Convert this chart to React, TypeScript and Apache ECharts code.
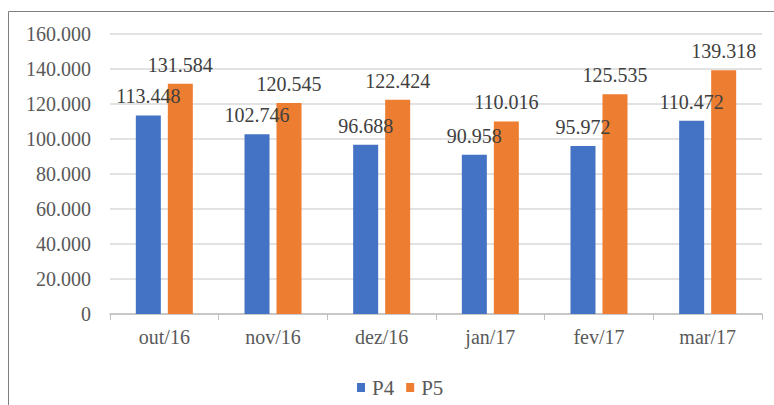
import React, { useEffect, useRef } from "react";
import * as echarts from "echarts";

const categories = ["out/16", "nov/16", "dez/16", "jan/17", "fev/17", "mar/17"];
const p4Values = [113.448, 102.746, 96.688, 90.958, 95.972, 110.472];
const p5Values = [131.584, 120.545, 122.424, 110.016, 125.535, 139.318];
const seriesNames = ["P4", "P5"];

const FONT = "Times New Roman, Liberation Serif, serif";
const fmt = (v: number) => (v === 0 ? "0" : v.toFixed(3));

export default function App() {
  const ref = useRef<HTMLDivElement>(null);
  useEffect(() => {
    if (!ref.current) return;
    const chart = echarts.init(ref.current, null, { renderer: "svg" });
    const labelStyle = {
      show: true,
      position: "top",
      distance: 9,
      fontFamily: FONT,
      fontSize: 20,
      color: "#404040",
      formatter: (p: any) => fmt(p.value),
    };
    chart.setOption({
      animation: false,
      backgroundColor: "#ffffff",
      textStyle: { fontFamily: FONT },
      graphic: [
        {
          type: "rect",
          shape: { x: 8.5, y: 11.5, width: 800, height: 500 },
          style: { fill: "none", stroke: "#7f7f7f", lineWidth: 1 },
          silent: true,
        },
      ],
      grid: { left: 110, right: 12, top: 34, bottom: 91, containLabel: false },
      legend: {
        top: 372,
        left: 352,
        itemWidth: 8,
        itemHeight: 9,
        itemGap: 12,
        icon: "rect",
        textStyle: { fontFamily: FONT, fontSize: 21, color: "#595959", padding: [0, 0, 0, 2] },
        data: seriesNames,
      },
      xAxis: {
        type: "category",
        data: categories,
        axisLine: { lineStyle: { color: "#bfbfbf", width: 1.5 } },
        axisTick: { show: true, length: 6, lineStyle: { color: "#bfbfbf" } },
        axisLabel: { fontFamily: FONT, fontSize: 20, color: "#595959", margin: 13 },
      },
      yAxis: {
        type: "value",
        min: 0,
        max: 160,
        interval: 20,
        axisLine: { show: false },
        axisTick: { show: false },
        splitLine: { lineStyle: { color: "#d9d9d9", width: 1.5 } },
        axisLabel: {
          fontFamily: FONT,
          fontSize: 20,
          color: "#595959",
          margin: 19,
          formatter: (v: number) => fmt(v),
        },
      },
      series: [
        {
          name: seriesNames[0],
          type: "bar",
          data: p4Values,
          barWidth: 25,
          barGap: "28%",
          itemStyle: { color: "#4472c4" },
          label: labelStyle,
        },
        {
          name: seriesNames[1],
          type: "bar",
          data: p5Values,
          barWidth: 25,
          itemStyle: { color: "#ed7d31" },
          label: labelStyle,
        },
      ],
    });
    return () => chart.dispose();
  }, []);
  return (
    <div
      ref={ref}
      style={{ position: "absolute", left: 0, top: 0, width: 774, height: 405 }}
    />
  );
}
